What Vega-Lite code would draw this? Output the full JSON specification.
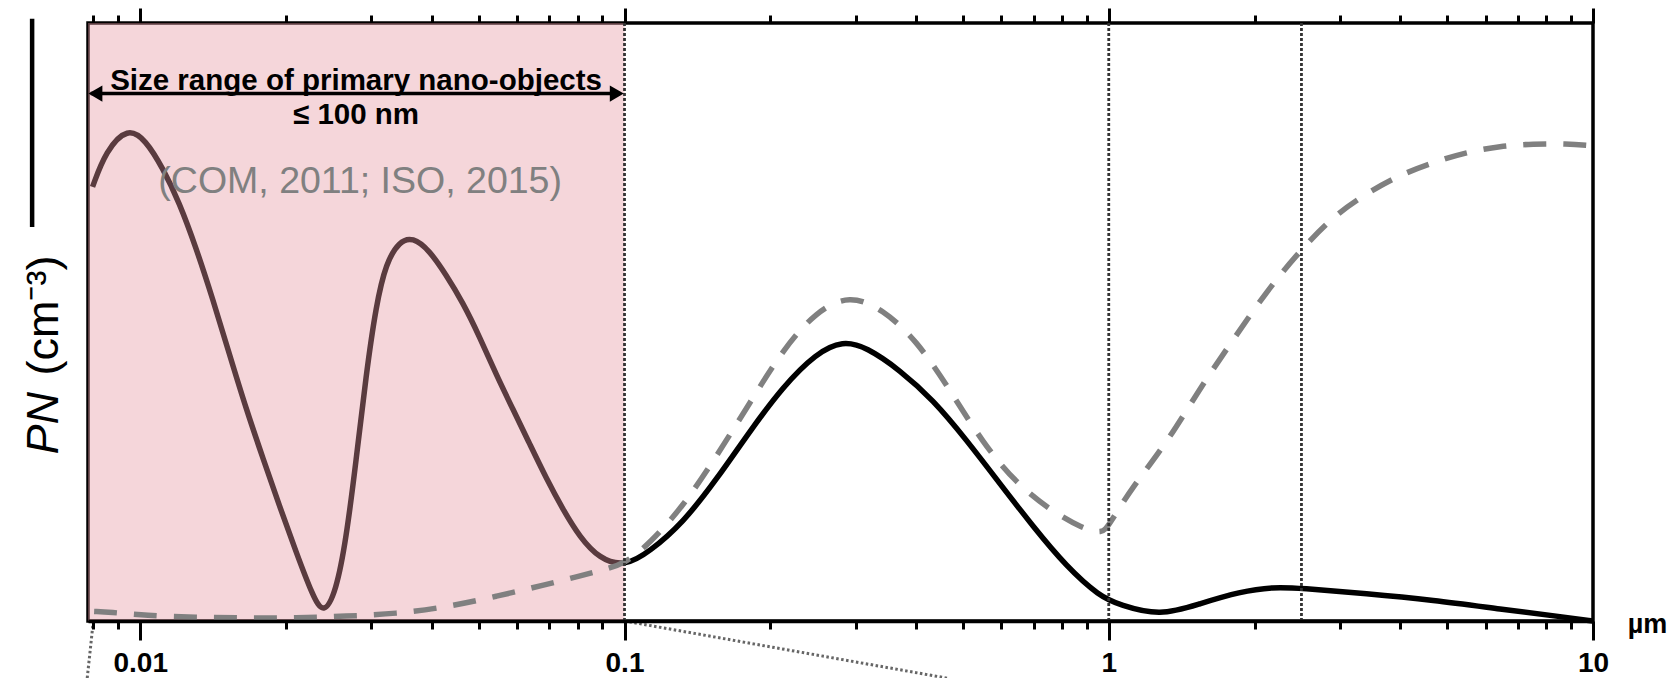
{
  "$schema": "https://vega.github.io/schema/vega-lite/v6.json",
  "width": 1505,
  "height": 598,
  "autosize": "none",
  "padding": {"left": 88, "top": 23, "right": 79, "bottom": 57},
  "background": "white",
  "config": {
    "view": {"stroke": "black", "strokeWidth": 3.5},
    "font": "Liberation Sans",
    "axis": {"grid": false}
  },
  "datasets": {
    "solid": [
      {"d": 0.00797, "pn": 72.6}, {"d": 0.00849, "pn": 78.6}, {"d": 0.00942, "pn": 82.6}, {"d": 0.01027, "pn": 80.4},
      {"d": 0.01112, "pn": 75.8}, {"d": 0.01204, "pn": 70.0}, {"d": 0.01303, "pn": 62.5}, {"d": 0.01411, "pn": 53.9},
      {"d": 0.01527, "pn": 44.7}, {"d": 0.01654, "pn": 35.5}, {"d": 0.01789, "pn": 27.4}, {"d": 0.01937, "pn": 19.3},
      {"d": 0.02097, "pn": 11.6}, {"d": 0.0227, "pn": 4.2}, {"d": 0.02391, "pn": 1.0}, {"d": 0.02537, "pn": 4.9},
      {"d": 0.02661, "pn": 13.6}, {"d": 0.02791, "pn": 26.8}, {"d": 0.02927, "pn": 41.2}, {"d": 0.03069, "pn": 52.8},
      {"d": 0.03218, "pn": 59.9}, {"d": 0.03428, "pn": 63.5}, {"d": 0.03652, "pn": 64.2}, {"d": 0.03954, "pn": 62.0},
      {"d": 0.0428, "pn": 57.9}, {"d": 0.04634, "pn": 53.3}, {"d": 0.05017, "pn": 47.6}, {"d": 0.05432, "pn": 41.2},
      {"d": 0.05876, "pn": 35.5}, {"d": 0.06364, "pn": 29.7}, {"d": 0.0689, "pn": 23.9}, {"d": 0.07457, "pn": 18.7},
      {"d": 0.08072, "pn": 14.1}, {"d": 0.08878, "pn": 10.4}, {"d": 0.1, "pn": 9.1}, {"d": 0.1127, "pn": 11.6},
      {"d": 0.132, "pn": 16.4}, {"d": 0.1547, "pn": 23.6}, {"d": 0.1813, "pn": 31.7}, {"d": 0.2124, "pn": 39.2},
      {"d": 0.2489, "pn": 44.8}, {"d": 0.2825, "pn": 46.9}, {"d": 0.3158, "pn": 45.8}, {"d": 0.37, "pn": 42.0},
      {"d": 0.4335, "pn": 37.0}, {"d": 0.5082, "pn": 30.3}, {"d": 0.5955, "pn": 23.0}, {"d": 0.6977, "pn": 15.8},
      {"d": 0.8177, "pn": 9.1}, {"d": 0.9581, "pn": 4.1}, {"d": 1.054, "pn": 2.7}, {"d": 1.275, "pn": 0.8},
      {"d": 1.542, "pn": 2.9}, {"d": 1.866, "pn": 4.9}, {"d": 2.185, "pn": 5.7}, {"d": 2.481, "pn": 5.5},
      {"d": 3.407, "pn": 4.6}, {"d": 4.677, "pn": 3.5}, {"d": 6.425, "pn": 2.0}, {"d": 8.822, "pn": 0.6},
      {"d": 10, "pn": 0}
    ],
    "dashed": [
      {"d": 0.00803, "pn": 1.6}, {"d": 0.00863, "pn": 1.5}, {"d": 0.01027, "pn": 0.9}, {"d": 0.01303, "pn": 0.6},
      {"d": 0.01654, "pn": 0.5}, {"d": 0.02097, "pn": 0.5}, {"d": 0.02661, "pn": 0.8}, {"d": 0.03375, "pn": 1.2},
      {"d": 0.0428, "pn": 2.3}, {"d": 0.05432, "pn": 4.1}, {"d": 0.0689, "pn": 6.1}, {"d": 0.08072, "pn": 7.5},
      {"d": 0.08878, "pn": 8.4}, {"d": 0.1, "pn": 9.5}, {"d": 0.1127, "pn": 13.0}, {"d": 0.132, "pn": 19.1},
      {"d": 0.1547, "pn": 27.5}, {"d": 0.1813, "pn": 36.4}, {"d": 0.2124, "pn": 45.4}, {"d": 0.2489, "pn": 51.8},
      {"d": 0.2917, "pn": 54.6}, {"d": 0.3418, "pn": 52.1}, {"d": 0.4006, "pn": 47.0}, {"d": 0.4694, "pn": 38.7},
      {"d": 0.5501, "pn": 29.7}, {"d": 0.6447, "pn": 23.0}, {"d": 0.7554, "pn": 18.6}, {"d": 0.8852, "pn": 15.4},
      {"d": 0.97, "pn": 14.6}, {"d": 1.0, "pn": 16.0}, {"d": 1.114, "pn": 22.2}, {"d": 1.316, "pn": 29.7},
      {"d": 1.542, "pn": 38.9}, {"d": 1.806, "pn": 47.0}, {"d": 2.117, "pn": 55.1}, {"d": 2.45, "pn": 61.4},
      {"d": 2.906, "pn": 67.7}, {"d": 3.407, "pn": 71.5}, {"d": 3.992, "pn": 74.6}, {"d": 4.679, "pn": 76.7},
      {"d": 5.483, "pn": 78.4}, {"d": 6.426, "pn": 79.4}, {"d": 7.53, "pn": 79.8}, {"d": 8.825, "pn": 79.8},
      {"d": 9.858, "pn": 79.5}
    ]
  },
  "layer": [
    {
      "encoding": {
        "x": {
          "field": "d", "type": "quantitative",
          "scale": {"type": "log", "domain": [0.0078, 10]},
          "axis": {
            "orient": "bottom", "zindex": 1,
            "values": [0.008, 0.009, 0.01, 0.02, 0.03, 0.04, 0.05, 0.06, 0.07, 0.08, 0.09, 0.1, 0.2, 0.3, 0.4, 0.5, 0.6, 0.7, 0.8, 0.9, 1, 2, 3, 4, 5, 6, 7, 8, 9, 10],
            "labelExpr": "datum.value == 0.01 ? '0.01' : datum.value == 0.1 ? '0.1' : datum.value == 1 ? '1' : datum.value == 10 ? '10' : ''",
            "labelFont": "Liberation Sans", "labelFontSize": 28, "labelFontWeight": "bold", "labelColor": "black",
            "labelPadding": 9, "labelFlush": false, "labelOverlap": false,
            "domainColor": "black", "domainWidth": 3.5,
            "tickColor": "black", "tickWidth": 3,
            "tickSize": {"condition": {"test": "datum.value == 0.01 || datum.value == 0.1 || datum.value == 1 || datum.value == 10", "value": 19}, "value": 8},
            "title": "µm", "titleFont": "Liberation Sans", "titleFontSize": 27, "titleFontWeight": "bold", "titleColor": "black",
            "titleAngle": 0, "titleAlign": "center", "titleBaseline": "middle", "titleX": 1559, "titleY": 3
          }
        },
        "y": {
          "field": "pn", "type": "quantitative",
          "scale": {"domain": [0, 100]},
          "axis": {
            "orient": "left", "domain": false, "ticks": false, "labels": false,
            "title": "PN", "titleFont": "Liberation Sans", "titleFontSize": 45, "titleFontStyle": "italic", "titleFontWeight": "normal",
            "titleColor": "black", "titleAngle": 270, "titleAlign": "left", "titleBaseline": "alphabetic",
            "titleX": -31, "titleY": 431
          }
        }
      },
      "layer": [
        {
          "data": {"name": "solid"},
          "mark": {"type": "line", "color": "black", "strokeWidth": 5.5, "interpolate": "basis"}
        },
        {
          "data": {"values": [{"d": 0.0078, "d2": 0.1, "pn": 0, "pn2": 100}]},
          "mark": {"type": "rect", "color": "#e696a1", "opacity": 0.392},
          "encoding": {"x2": {"field": "d2"}, "y2": {"field": "pn2"}}
        },
        {
          "data": {"name": "dashed"},
          "mark": {"type": "line", "color": "#808080", "strokeWidth": 5.5, "strokeDash": [23, 17], "interpolate": "basis"}
        },
        {
          "data": {"values": [{"d": 0.1, "pn": 0, "pn2": 100}, {"d": 1, "pn": 0, "pn2": 100}, {"d": 2.5, "pn": 0, "pn2": 100}]},
          "mark": {"type": "rule", "color": "#333333", "strokeWidth": 2.8, "strokeDash": [3, 2]},
          "encoding": {"y2": {"field": "pn2"}}
        },
        {
          "data": {"values": [{"d": 0.008, "pn": 0, "d2": 0.00777, "pn2": -9.6}, {"d": 0.1, "pn": 0, "d2": 0.467, "pn2": -9.6}]},
          "mark": {"type": "rule", "color": "#666666", "strokeWidth": 3, "strokeDash": [2.5, 2.5], "clip": false},
          "encoding": {"x2": {"field": "d2"}, "y2": {"field": "pn2"}}
        },
        {
          "data": {"values": [{"d": 0.00598, "pn": 100.7, "pn2": 65.9}]},
          "mark": {"type": "rule", "color": "black", "strokeWidth": 4.5, "clip": false},
          "encoding": {"y2": {"field": "pn2"}}
        },
        {
          "data": {"values": [{"d": 0.0079, "d2": 0.098, "pn": 88.2}]},
          "mark": {"type": "rule", "color": "black", "strokeWidth": 3.5},
          "encoding": {"x2": {"field": "d2"}}
        },
        {
          "data": {"values": [{"d": 0.00808, "pn": 88.2}]},
          "mark": {"type": "point", "shape": "triangle-left", "filled": true, "color": "black", "size": 260, "opacity": 1}
        },
        {
          "data": {"values": [{"d": 0.0964, "pn": 88.2}]},
          "mark": {"type": "point", "shape": "triangle-right", "filled": true, "color": "black", "size": 260, "opacity": 1}
        },
        {
          "data": {"values": [{"d": 0.0279, "pn": 90.3, "label": "Size range of primary nano-objects"}, {"d": 0.0279, "pn": 84.6, "label": "≤ 100 nm"}]},
          "mark": {"type": "text", "font": "Liberation Sans", "fontSize": 29.5, "fontWeight": "bold", "color": "black", "align": "center", "baseline": "middle"},
          "encoding": {"text": {"field": "label"}}
        },
        {
          "data": {"values": [{"d": 0.02845, "pn": 73.4, "label": "(COM, 2011; ISO, 2015)"}]},
          "mark": {"type": "text", "font": "Liberation Sans", "fontSize": 37.5, "color": "#808080", "align": "center", "baseline": "middle"},
          "encoding": {"text": {"field": "label"}}
        }
      ]
    },
    {
      "data": {"values": [{"d": 1, "pn": 50}]},
      "mark": {"type": "point", "opacity": 0},
      "encoding": {
        "x": {
          "field": "d", "type": "quantitative",
          "scale": {"type": "log", "domain": [0.0078, 10]},
          "axis": {
            "orient": "top", "labels": false, "domain": false, "title": null,
            "values": [0.008, 0.009, 0.01, 0.02, 0.03, 0.04, 0.05, 0.06, 0.07, 0.08, 0.09, 0.1, 0.2, 0.3, 0.4, 0.5, 0.6, 0.7, 0.8, 0.9, 1, 2, 3, 4, 5, 6, 7, 8, 9, 10],
            "tickColor": "black", "tickWidth": 3,
            "tickSize": {"condition": {"test": "datum.value == 0.01 || datum.value == 0.1 || datum.value == 1 || datum.value == 10", "value": 15}, "value": 8}
          }
        },
        "y": {
          "field": "pn", "type": "quantitative",
          "scale": {"domain": [0, 100]},
          "axis": {
            "orient": "left", "domain": false, "ticks": false, "labels": false,
            "title": "(cm⁻³)", "titleFont": "Liberation Sans", "titleFontSize": 45, "titleFontWeight": "normal",
            "titleColor": "black", "titleAngle": 270, "titleAlign": "left", "titleBaseline": "alphabetic",
            "titleX": -31, "titleY": 352
          }
        }
      }
    }
  ],
  "resolve": {"scale": {"x": "independent", "y": "independent"}}
}
